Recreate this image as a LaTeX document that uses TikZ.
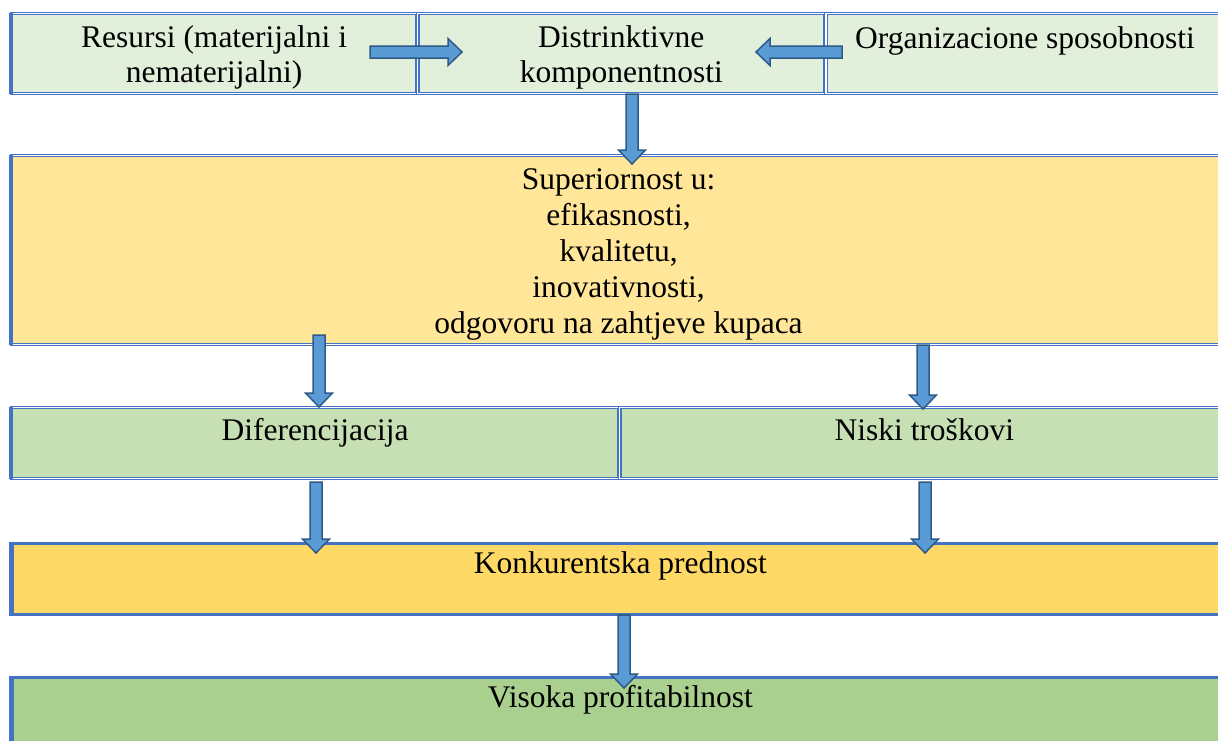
\documentclass[tikz,border=0pt]{standalone}
\usepackage{fontspec}
\setmainfont{Liberation Serif}
\usetikzlibrary{positioning,calc}
\definecolor{bordblue}{HTML}{4472C4}
\definecolor{arrfill}{HTML}{5B9BD5}
\definecolor{arrline}{HTML}{2E5A88}
\definecolor{lgreen}{HTML}{E2EFDA}
\definecolor{lyellow}{HTML}{FFE699}
\definecolor{mgreen}{HTML}{C6E0B4}
\definecolor{myellow}{HTML}{FFD966}
\definecolor{dgreen}{HTML}{A9D08E}
\tikzset{dbox/.style={rectangle,draw=bordblue,line width=1.2pt,double=white,double distance=1.2pt,inner sep=0pt},
	 sbox/.style={rectangle,draw=bordblue,line width=2.8pt,inner sep=0pt},
	 lbl/.style={anchor=base,align=center,inner sep=0pt,font=\fontsize{31.5}{35}\selectfont},
	 leftedge/.style={draw=bordblue,line width=3.5pt},
	 barrow/.style={draw=arrline,fill=arrfill,line width=1.5pt,line join=miter,
	   to path={let \p1=(\tikztostart), \p2=(\tikztotarget),
	     \n1={atan2(\y2-\y1,\x2-\x1)}, \n2={veclen(\x2-\x1,\y2-\y1)-14pt} in
	     ($(\p1)+(\n1+90:6pt)$) -- ($(\p1)+(\n1:\n2)+(\n1+90:6pt)$) -- ($(\p1)+(\n1:\n2)+(\n1+90:13.5pt)$)
	     -- (\p2) -- ($(\p1)+(\n1:\n2)+(\n1-90:13.5pt)$) -- ($(\p1)+(\n1:\n2)+(\n1-90:6pt)$)
	     -- ($(\p1)+(\n1-90:6pt)$) -- cycle}},
	 node distance = 0pt
	 }

\begin{document}
\begin{tikzpicture}[x=1pt,y=-1pt]
	\useasboundingbox (0,0) rectangle (1218,740);
	\clip (0,0) rectangle (1218,740);
	% first row
	\node[dbox,fill=lgreen,minimum width=405pt,minimum height=80pt,anchor=north west] (res) at (11,13) {};
	\node[dbox,fill=lgreen,minimum width=407pt,minimum height=80pt] (dis) [right=of res] {};
	\node[dbox,fill=lgreen,minimum width=410pt,minimum height=80pt] (org) [right=of dis] {};
	\node[lbl] (tres) at ([yshift=-69pt]res.north) {Resursi (materijalni i\\nematerijalni)};
	\node[lbl] (tdis) at ([yshift=-69pt]dis.north) {Distrinktivne\\komponentnosti};
	\node[lbl] (torg) at ([yshift=-35pt,xshift=-6pt]org.north) {Organizacione sposobnosti};
	% superiornost
	\node[dbox,fill=lyellow,minimum width=1220pt,minimum height=189pt,anchor=north west] (sup) at (11,155) {};
	\node[lbl,font=\fontsize{31.5}{36}\selectfont] (tsup) at ([yshift=-178pt,xshift=-3pt]sup.north) {Superiornost u:\\efikasnosti,\\kvalitetu,\\inovativnosti,\\odgovoru na zahtjeve kupaca};
	% strategije
	\node[dbox,fill=mgreen,minimum width=607pt,minimum height=71pt,anchor=north west] (dif) at (11,407) {};
	\node[dbox,fill=mgreen,minimum width=613pt,minimum height=71pt] (nis) [right=of dif] {};
	\node[lbl] (tdif) at ([yshift=-33pt]dif.north) {Diferencijacija};
	\node[lbl] (tnis) at ([yshift=-33pt,xshift=-2pt]nis.north) {Niski troškovi};
	% prednost i profitabilnost
	\node[sbox,fill=myellow,minimum width=1220pt,minimum height=71pt,anchor=north west] (kon) at (11,542) {};
	\node[lbl] (tkon) at ([yshift=-31pt,xshift=-2pt]kon.north) {Konkurentska prednost};
	\node[sbox,fill=dgreen,minimum width=1220pt,minimum height=90pt,anchor=north west] (vis) at (11,676) {};
	\node[lbl] (tvis) at ([yshift=-31pt,xshift=-2pt]vis.north) {Visoka profitabilnost};
	\foreach \b in {res,sup,dif,kon,vis}
	  \draw[leftedge] (\b.north west) -- (\b.south west);
	% arrows
	\coordinate (r1) at (370,52);  \coordinate (d1) at (462,52);
	\coordinate (o1) at (842,52);  \coordinate (d2) at (756,52);
	\coordinate (d3) at (632,94);  \coordinate (s1) at (632,164);
	\coordinate (s2) at (319,335); \coordinate (f1) at (319,407);
	\coordinate (s3) at (923,345); \coordinate (n1) at (923,409);
	\coordinate (f2) at (316,482); \coordinate (k1) at (316,553);
	\coordinate (n2) at (925,482); \coordinate (k2) at (925,553);
	\coordinate (k3) at (624,615); \coordinate (v1) at (624,688);
	\draw[barrow] (r1) to (d1); \draw[barrow] (o1) to (d2);
	\draw[barrow] (d3) to (s1);
	\draw[barrow] (s2) to (f1); \draw[barrow] (s3) to (n1);
	\draw[barrow] (f2) to (k1); \draw[barrow] (n2) to (k2);
	\draw[barrow] (k3) to (v1);
\end{tikzpicture}
\end{document}
